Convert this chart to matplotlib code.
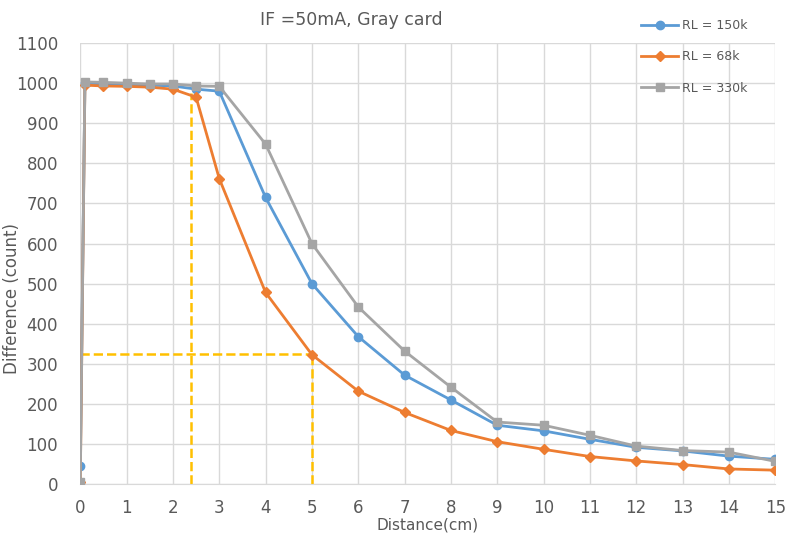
import numpy as np
import matplotlib.pyplot as plt

# distancias (cm)
distancia = [0, 0.1, 0.5, 1, 1.5, 2, 2.5, 3, 4, 5, 6, 7, 8, 9, 10, 11, 12, 13, 14, 15]

rl_150k = [45, 1000, 998, 997, 995, 993, 985, 980, 715, 500, 368, 272, 210, 147, 133, 112, 92, 83, 70, 62]
rl_68k = [5, 995, 993, 992, 990, 985, 965, 762, 478, 323, 232, 179, 134, 106, 87, 69, 58, 49, 38, 35]
rl_330k = [5, 1003, 1002, 1000, 998, 998, 993, 992, 848, 600, 442, 332, 242, 155, 147, 122, 95, 84, 80, 57]

# lineas guia (amarillas)
guia_x1, guia_y1 = 2.4, 975
guia_x2, guia_y2 = 5, 325

xticks = list(range(0, 16))
yticks = list(range(0, 1101, 100))

gris_texto = '#595959'

fig = plt.figure(figsize=(7.87, 5.38), dpi=100)
ax = fig.add_axes([0.102, 0.100, 0.883, 0.820])

ax.plot(distancia, rl_150k, color='#5B9BD5', marker='o', markersize=6, lw=2, label='RL = 150k', zorder=3)
ax.plot(distancia, rl_68k, color='#ED7D31', marker='D', markersize=5, lw=2, label='RL = 68k', zorder=3)
ax.plot(distancia, rl_330k, color='#A5A5A5', marker='s', markersize=6, lw=2, label='RL = 330k', zorder=3)

amarillo = '#FFC000'
ax.plot([guia_x1, guia_x1], [0, guia_y1], color=amarillo, ls='--', lw=1.8, zorder=2)
ax.plot([0, guia_x2], [guia_y2, guia_y2], color=amarillo, ls='--', lw=1.8, zorder=2)
ax.plot([guia_x2, guia_x2], [0, guia_y2], color=amarillo, ls='--', lw=1.8, zorder=2)

ax.set_xlim(0, 15)
ax.set_ylim(0, 1100)
ax.set_xticks(xticks)
ax.set_yticks(yticks)
ax.grid(True, color='#D9D9D9', lw=1)
ax.set_axisbelow(True)
for s in ['top', 'right', 'left']:
    ax.spines[s].set_visible(False)
ax.spines['bottom'].set_color('#D9D9D9')
ax.tick_params(length=0, labelsize=12, colors=gris_texto)
ax.tick_params(axis='x', pad=11)
ax.tick_params(axis='y', pad=16)

ax.set_title('IF =50mA, Gray card', fontsize=12.5, color=gris_texto, x=0.39, pad=13)
ax.set_xlabel('Distance(cm)', fontsize=11, color=gris_texto, labelpad=0)
ax.set_ylabel('Difference (count)', fontsize=12, color=gris_texto)
ax.yaxis.set_label_coords(-0.086, 0.42)

fig.legend(loc='upper left', bbox_to_anchor=(0.8, 0.985), frameon=False, fontsize=9,
           labelspacing=1.45, handlelength=3, handletextpad=0.3, labelcolor=gris_texto)

fig.savefig('out.png', dpi=100)
